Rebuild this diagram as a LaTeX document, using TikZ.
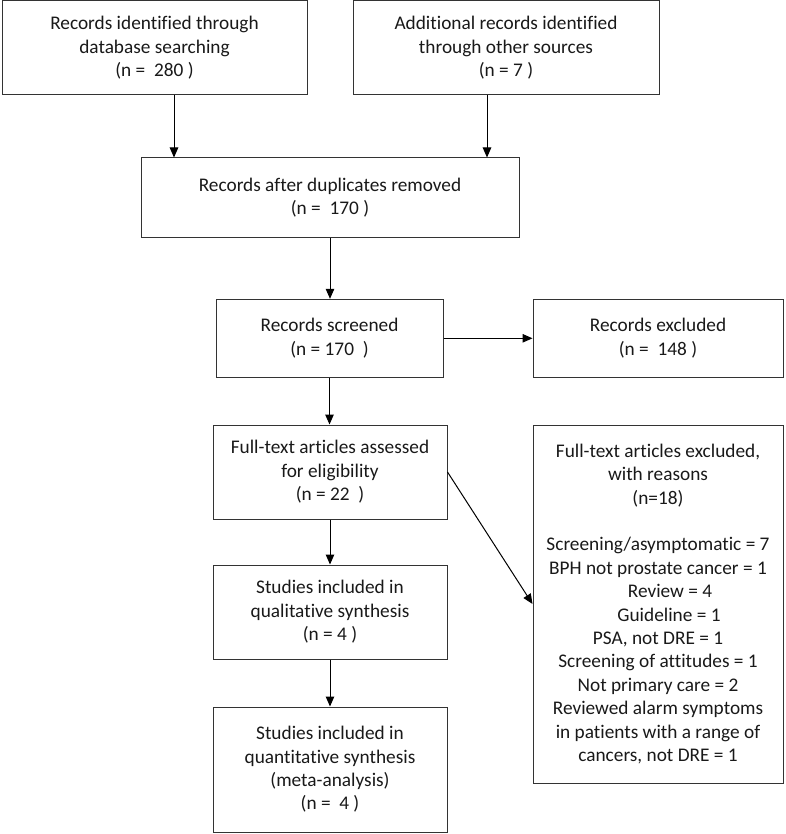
\documentclass[tikz,border=0pt]{standalone}
\usepackage{fontspec}
\setmainfont{Carlito}[Ligatures=NoCommon]
\usetikzlibrary{arrows.meta,calc}
\begin{document}
\begin{tikzpicture}[x=1pt,y=-1pt,
  box/.style={draw=black!80, line width=1pt, align=center, inner sep=0pt,
    font=\fontsize{19.3}{23.4}\selectfont, text=black!90},
  arr/.style={draw=black, line width=1pt, -{Triangle[length=10pt,width=8.5pt]}}]
\useasboundingbox (0,0) rectangle (785,834);
\node[box, minimum width=305pt, minimum height=94pt] (A) at (154.5,48)
  {Records identified through\\database searching\\(n =\ \ 280 )};
\node[box, minimum width=306pt, minimum height=94pt] (B) at (506,48)
  {Additional records identified\\through other sources\\(n = 7 )};
\node[box, minimum width=378pt, minimum height=79pt] (C) at (330,197.5)
  {Records after duplicates removed\\(n =\ \ 170 )};
\node[box, minimum width=227pt, minimum height=78pt] (D) at (329.5,338.3)
  {Records screened\\(n = 170\ \ )};
\node[box, minimum width=250pt, minimum height=78pt] (E) at (658,338)
  {Records excluded\\(n =\ \ 148 )};
\node[box, minimum width=234pt, minimum height=94pt] (F) at (330,472)
  {Full-text articles assessed\\for eligibility\\(n = 22\ \ )};
\node[box, minimum width=250pt, minimum height=358pt] (G) at (658,604)
  {Full-text articles excluded,\\with reasons\\(n=18)\\[23.4pt]
   Screening/asymptomatic = 7\\BPH not prostate cancer = 1\\\hspace*{24pt}Review = 4\\
   \hspace*{22pt}Guideline = 1\\PSA, not DRE = 1\\Screening of attitudes = 1\\
   Not primary care = 2\\Reviewed alarm symptoms\\in patients with a range of\\
   cancers, not DRE = 1};
\node[box, minimum width=234pt, minimum height=94pt] (H) at (330,612)
  {Studies included in\\qualitative synthesis\\(n = 4 )};
\node[box, minimum width=234pt, minimum height=125pt] (I) at (330,769.5)
  {Studies included in\\quantitative synthesis\\(meta-analysis)\\(n =\ \ 4 )};
\coordinate (ax) at (174,0);
\coordinate (bx) at (487,0);
\draw[arr] (A.south -| ax) -- (C.north -| ax);
\draw[arr] (B.south -| bx) -- (C.north -| bx);
\draw[arr] (C.south) -- (C.south |- D.north);
\draw[arr] (D.east) -- (D.east -| E.west);
\draw[arr] (D.south) -- (D.south |- F.north);
\draw[arr] (F.east) -- (G.west);
\draw[arr] (F.south) -- (F.south |- H.north);
\draw[arr] (H.south) -- (H.south |- I.north);
\end{tikzpicture}
\end{document}
